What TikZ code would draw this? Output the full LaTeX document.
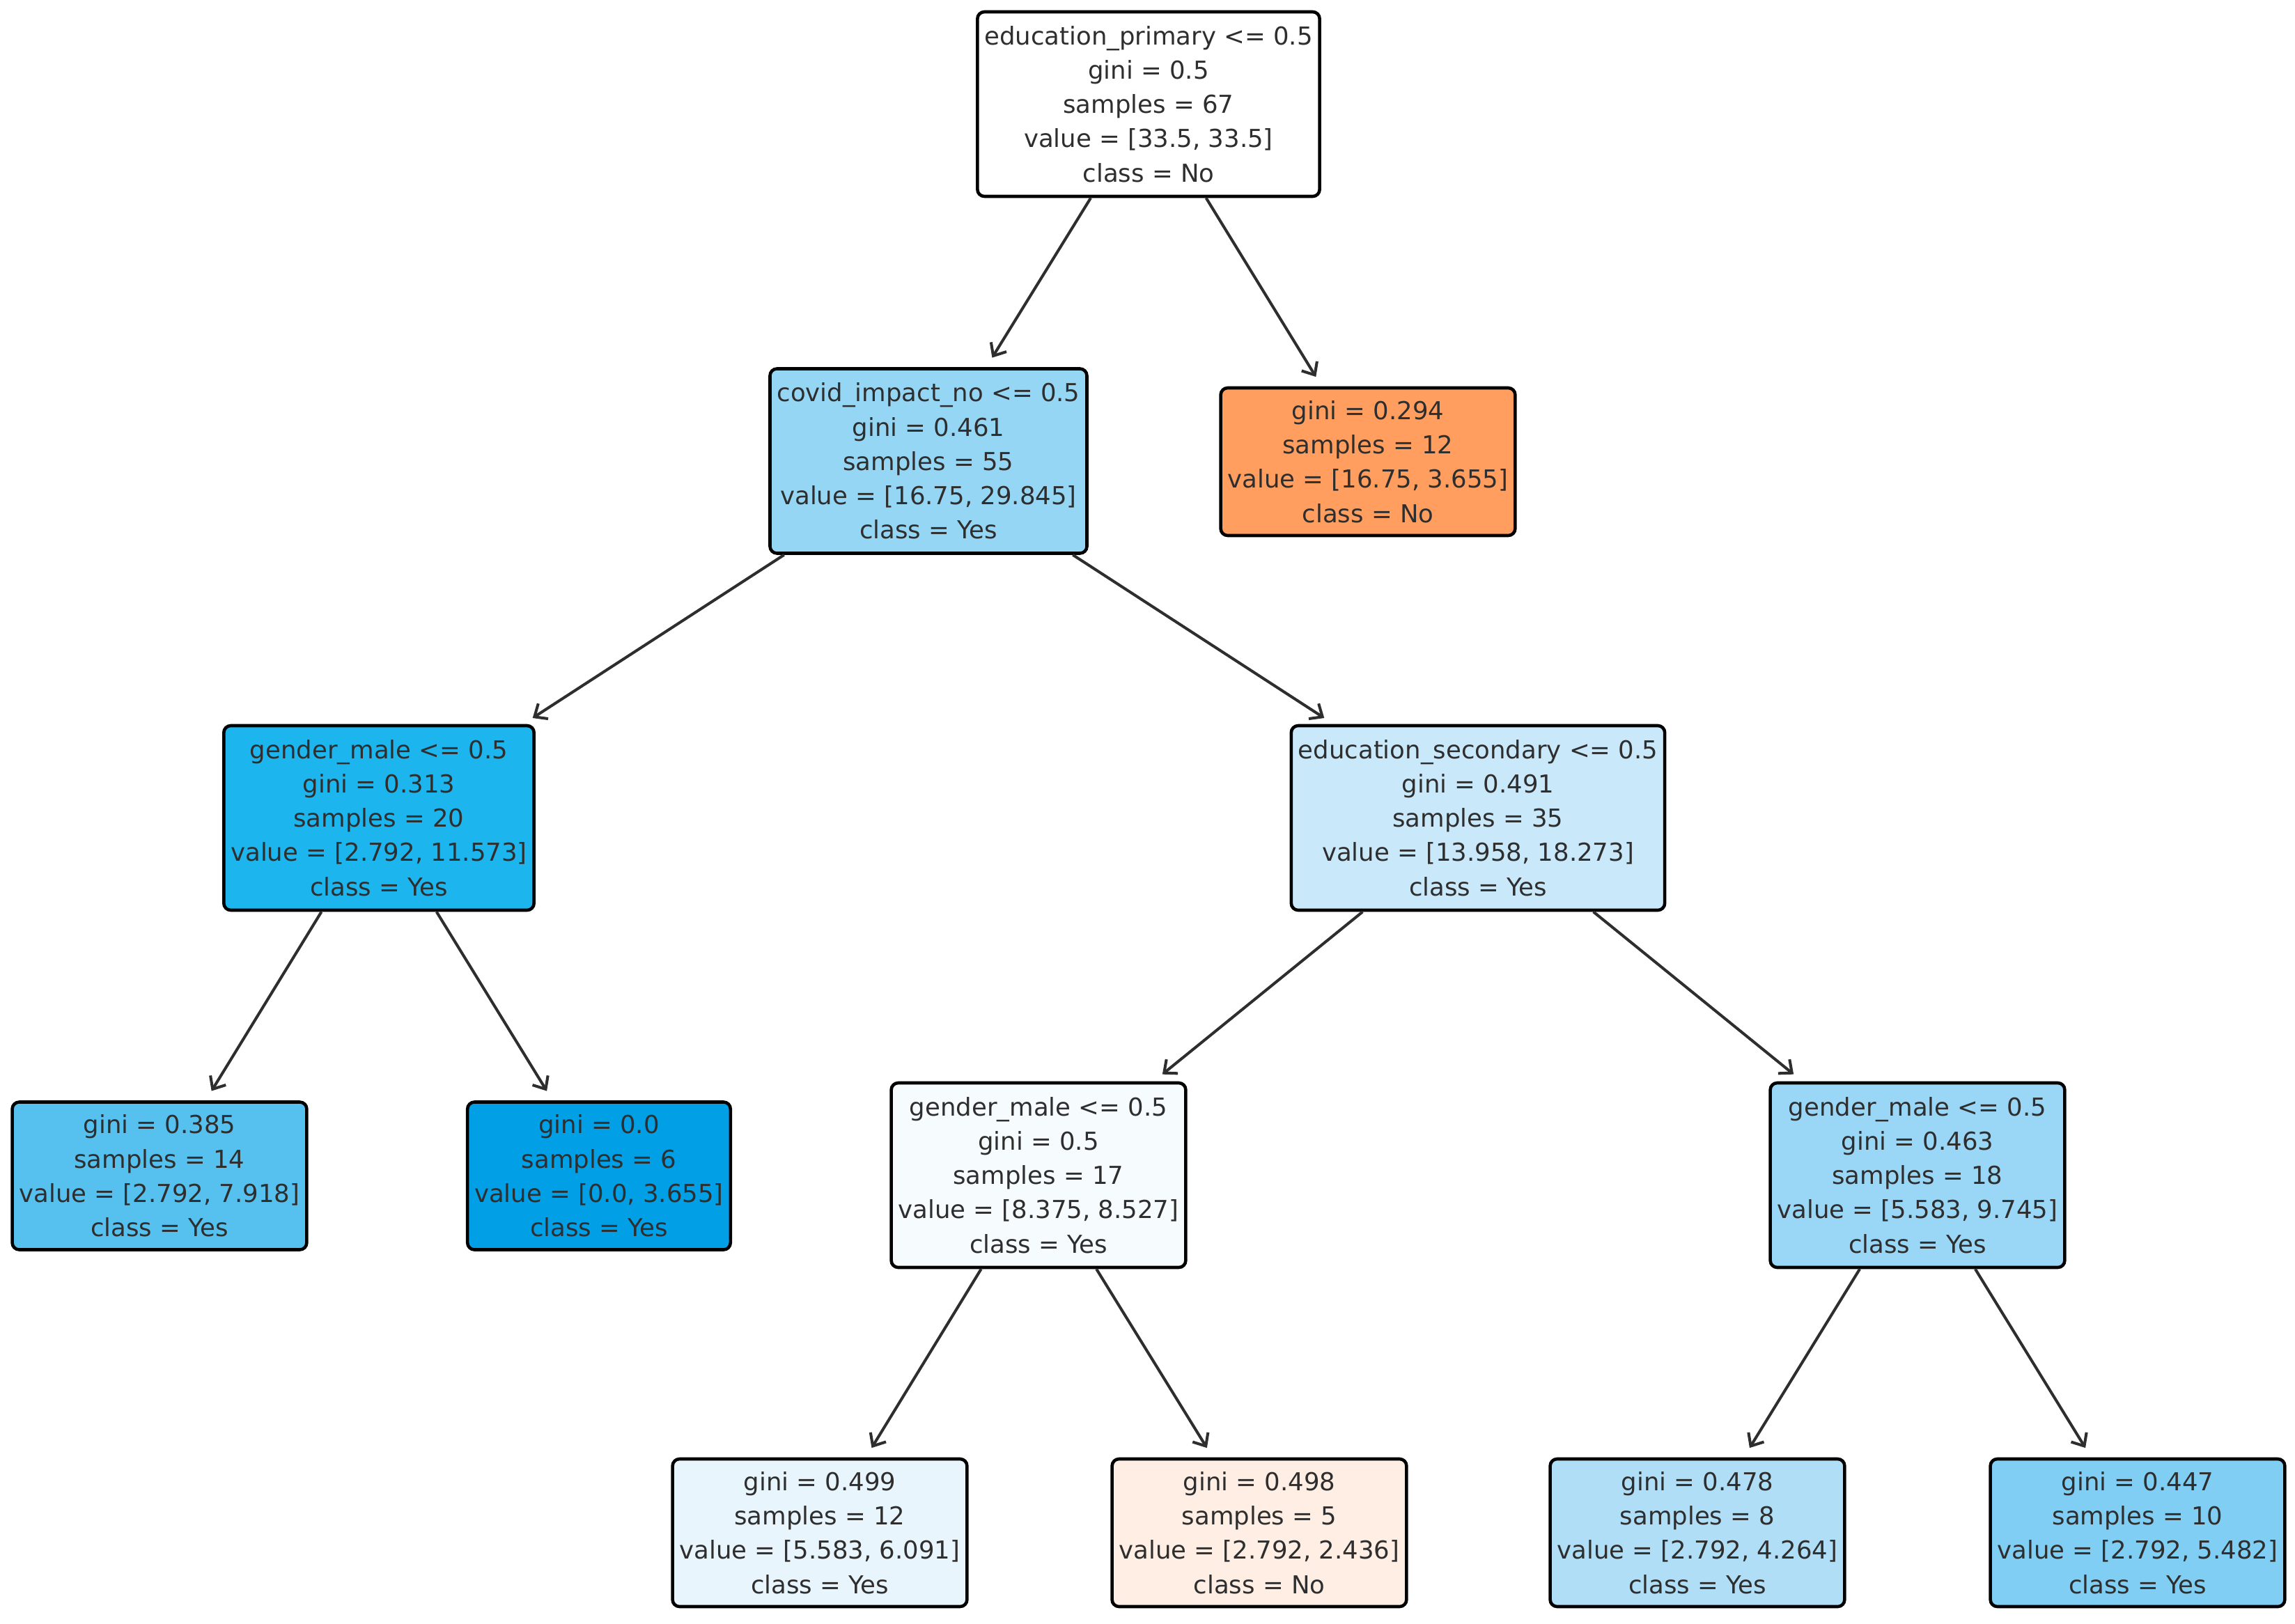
\documentclass[tikz,border=0pt]{standalone}
\usepackage{fontspec}
\setmainfont{DejaVu Sans}
\usetikzlibrary{arrows.meta}
\definecolor{txt}{HTML}{2E2E2E}
\definecolor{cRoot}{HTML}{FFFFFF}
\definecolor{cCovid}{HTML}{96D6F5}
\definecolor{cOrange}{HTML}{FF9E5E}
\definecolor{cGL}{HTML}{1CB5EE}
\definecolor{cEdu}{HTML}{C9E9FB}
\definecolor{cL385}{HTML}{56C0EF}
\definecolor{cL00}{HTML}{009FE6}
\definecolor{cGM}{HTML}{F6FBFE}
\definecolor{cGR}{HTML}{9AD6F5}
\definecolor{cL499}{HTML}{E9F5FD}
\definecolor{cL498}{HTML}{FEEEE4}
\definecolor{cL478}{HTML}{AFDEF6}
\definecolor{cL447}{HTML}{80CEF3}
\tikzset{
  treebox/.style={draw=black, line width=1.3pt, rounded corners=0.1cm, inner xsep=0.1cm, inner ysep=0cm,
    align=center, text=txt, font=\fontsize{10.1pt}{14pt}\selectfont},
  inner/.style={treebox, minimum height=2.65cm},
  leaf/.style={treebox, minimum height=2.12cm},
  edge/.style={draw=txt, line width=1.15pt, -{Straight Barb[length=0.15cm,width=0.26cm,line width=1.15pt]}, shorten >=0.16cm}
}
\begin{document}
\begin{tikzpicture}
\useasboundingbox (0,0) rectangle (32.95,-23.32);
\node[inner, fill=cRoot] (root) at (16.49,-1.495) {education\_primary <= 0.5\\gini = 0.5\\samples = 67\\value = [33.5, 33.5]\\class = No};
\node[inner, fill=cCovid] (covid) at (13.33,-6.62) {covid\_impact\_no <= 0.5\\gini = 0.461\\samples = 55\\value = [16.75, 29.845]\\class = Yes};
\node[leaf, fill=cOrange] (l294) at (19.64,-6.63) {gini = 0.294\\samples = 12\\value = [16.75, 3.655]\\class = No};
\node[inner, fill=cGL] (gL) at (5.44,-11.745) {gender\_male <= 0.5\\gini = 0.313\\samples = 20\\value = [2.792, 11.573]\\class = Yes};
\node[inner, fill=cEdu] (edu) at (21.22,-11.745) {education\_secondary <= 0.5\\gini = 0.491\\samples = 35\\value = [13.958, 18.273]\\class = Yes};
\node[leaf, fill=cL385] (l385) at (2.29,-16.885) {gini = 0.385\\samples = 14\\value = [2.792, 7.918]\\class = Yes};
\node[leaf, fill=cL00] (l00) at (8.60,-16.885) {gini = 0.0\\samples = 6\\value = [0.0, 3.655]\\class = Yes};
\node[inner, fill=cGM] (gM) at (14.91,-16.875) {gender\_male <= 0.5\\gini = 0.5\\samples = 17\\value = [8.375, 8.527]\\class = Yes};
\node[inner, fill=cGR] (gR) at (27.53,-16.875) {gender\_male <= 0.5\\gini = 0.463\\samples = 18\\value = [5.583, 9.745]\\class = Yes};
\node[leaf, fill=cL499] (l499) at (11.77,-22.01) {gini = 0.499\\samples = 12\\value = [5.583, 6.091]\\class = Yes};
\node[leaf, fill=cL498] (l498) at (18.08,-22.01) {gini = 0.498\\samples = 5\\value = [2.792, 2.436]\\class = No};
\node[leaf, fill=cL478] (l478) at (24.37,-22.01) {gini = 0.478\\samples = 8\\value = [2.792, 4.264]\\class = Yes};
\node[leaf, fill=cL447] (l447) at (30.69,-22.01) {gini = 0.447\\samples = 10\\value = [2.792, 5.482]\\class = Yes};
\draw[edge] (root) -- (covid);
\draw[edge] (root) -- (l294);
\draw[edge] (covid) -- (gL);
\draw[edge] (covid) -- (edu);
\draw[edge] (gL) -- (l385);
\draw[edge] (gL) -- (l00);
\draw[edge] (edu) -- (gM);
\draw[edge] (edu) -- (gR);
\draw[edge] (gM) -- (l499);
\draw[edge] (gM) -- (l498);
\draw[edge] (gR) -- (l478);
\draw[edge] (gR) -- (l447);
\end{tikzpicture}
\end{document}
